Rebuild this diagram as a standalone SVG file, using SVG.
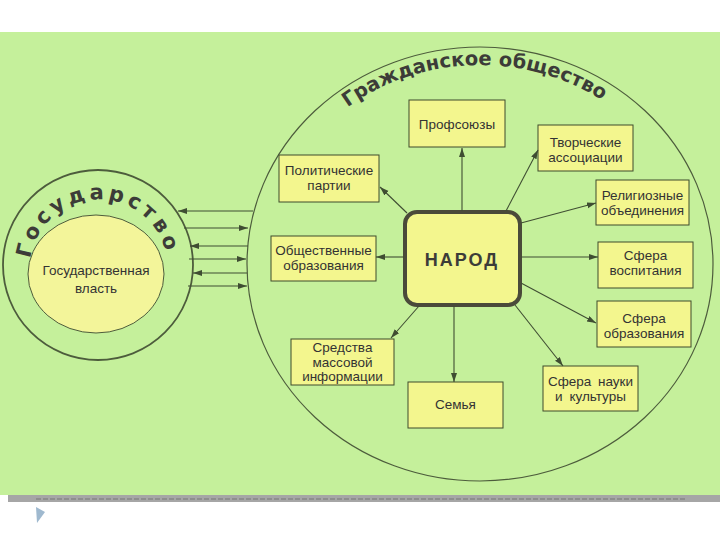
<svg xmlns="http://www.w3.org/2000/svg" width="720" height="540" viewBox="0 0 720 540">
<style>
.box{fill:#f3f68e;stroke:#3f4a2c;stroke-width:1}
.t{font-family:"Liberation Sans",Arial,sans-serif;font-size:13.5px;fill:#333;text-anchor:middle}
.c{stroke:#3f4d32;stroke-width:1.1;fill:none;marker-end:url(#ah)}
.ttl{font-family:"DejaVu Sans","Liberation Sans",sans-serif;font-weight:bold;fill:#3c3c38}
</style>
<defs>
<marker id="ah" markerUnits="userSpaceOnUse" markerWidth="10" markerHeight="8" refX="9" refY="3" orient="auto">
<path d="M0,0 L9,3 L0,6 z" fill="#3f4d32"/>
</marker>
<path id="p-gos" d="M30.4,258.6 A69,69 0 0 1 165.8,252"/>
<path id="p-gr" d="M347.6,107.2 A215,199 0 0 1 618.2,111.6"/>
</defs>
<rect x="0" y="0" width="720" height="540" fill="#ffffff"/>
<rect x="0" y="32" width="720" height="463" fill="#c5f09b"/>
<rect x="8" y="495" width="712" height="7" fill="#a6a6a6"/>
<line x1="36" y1="499" x2="686" y2="499" stroke="#777" stroke-width="1" stroke-dasharray="5,2"/>
<polygon points="36,507 45,512 37,523" fill="#9fb9cf"/>

<g id="civil-society">
<ellipse cx="480" cy="264" rx="233" ry="217" fill="none" stroke="#4d5c3c" stroke-width="1.2"/>
<text class="ttl" font-size="19.5"><textPath href="#p-gr" textLength="270" lengthAdjust="spacing">Гражданское общество</textPath></text>
</g>

<g id="state">
<circle cx="98" cy="265" r="95" fill="none" stroke="#4d5c3c" stroke-width="1.8"/>
<text class="ttl" font-size="21"><textPath href="#p-gos" textLength="190" lengthAdjust="spacing">Государство</textPath></text>
</g>
<g id="state-power">
<ellipse cx="96" cy="274" rx="68" ry="59" fill="#f3f59a" stroke="#4d5c3c" stroke-width="1"/>
<text class="t" x="96" y="275" font-size="15.5px">Государственная</text>
<text class="t" x="96" y="292.5" font-size="15.5px">власть</text>
</g>

<g id="narod">
<rect x="405" y="212" width="115" height="93" rx="12" fill="#f3f68e" stroke="#4a4a3a" stroke-width="4"/>
<text x="462" y="266" text-anchor="middle" font-family="Liberation Sans,Arial,sans-serif" font-weight="bold" font-size="18" letter-spacing="2" fill="#3c3c38">НАРОД</text>
</g>

<g id="profsoyuzy">
<rect class="box" x="409" y="100" width="96" height="47"/>
<text class="t" x="457" y="128.5">Профсоюзы</text>
</g>
<g id="tvorcheskie">
<rect class="box" x="538" y="125" width="95" height="46"/>
<text class="t" x="585.5" y="146.5">Творческие</text>
<text class="t" x="585.5" y="161.7">ассоциации</text>
</g>
<g id="religioznye">
<rect class="box" x="596" y="180" width="93" height="45"/>
<text class="t" x="642.5" y="200">Религиозные</text>
<text class="t" x="642.5" y="215.2">объединения</text>
</g>
<g id="vospitanie">
<rect class="box" x="598" y="242" width="95" height="46"/>
<text class="t" x="645.5" y="259.5">Сфера</text>
<text class="t" x="645.5" y="274.7">воспитания</text>
</g>
<g id="obrazovanie">
<rect class="box" x="597" y="301" width="94" height="46"/>
<text class="t" x="644" y="322.5">Сфера</text>
<text class="t" x="644" y="337.7">образования</text>
</g>
<g id="nauka">
<rect class="box" x="543" y="366" width="95" height="45"/>
<text class="t" x="590.5" y="385.5" word-spacing="3">Сфера науки</text>
<text class="t" x="590.5" y="400.7" word-spacing="3">и культуры</text>
</g>
<g id="semya">
<rect class="box" x="408" y="382" width="95" height="46"/>
<text class="t" x="455.5" y="409">Семья</text>
</g>
<g id="smi">
<rect class="box" x="291" y="339" width="103" height="46"/>
<text class="t" x="342.5" y="352" font-size="13px">Средства</text>
<text class="t" x="342.5" y="366.6" font-size="13px">массовой</text>
<text class="t" x="342.5" y="381.2" font-size="13px">информации</text>
</g>
<g id="obshchestvennye">
<rect class="box" x="271" y="236" width="105" height="45"/>
<text class="t" x="323.5" y="255">Общественные</text>
<text class="t" x="323.5" y="270.2">образования</text>
</g>
<g id="politicheskie">
<rect class="box" x="279" y="155" width="100" height="47"/>
<text class="t" x="329" y="175">Политические</text>
<text class="t" x="329" y="190.2">партии</text>
</g>

<g id="connectors">
<line class="c" x1="462" y1="211" x2="462" y2="148"/>
<line class="c" x1="506" y1="211" x2="538" y2="150"/>
<line class="c" x1="521" y1="223" x2="596" y2="203"/>
<line class="c" x1="521" y1="257" x2="598" y2="257"/>
<line class="c" x1="521" y1="283" x2="596" y2="323"/>
<line class="c" x1="515" y1="305" x2="563" y2="366"/>
<line class="c" x1="454" y1="306" x2="454" y2="382"/>
<line class="c" x1="419" y1="306" x2="391" y2="338"/>
<line class="c" x1="404" y1="257" x2="376" y2="257"/>
<line class="c" x1="407" y1="213" x2="380" y2="187"/>
<line class="c" x1="253" y1="211" x2="178" y2="211"/>
<line class="c" x1="184" y1="228" x2="248" y2="228"/>
<line class="c" x1="248" y1="246" x2="190" y2="246"/>
<line class="c" x1="189" y1="259" x2="246" y2="259"/>
<line class="c" x1="247" y1="273" x2="193" y2="273"/>
<line class="c" x1="188" y1="286" x2="247" y2="286"/>
</g>
</svg>
